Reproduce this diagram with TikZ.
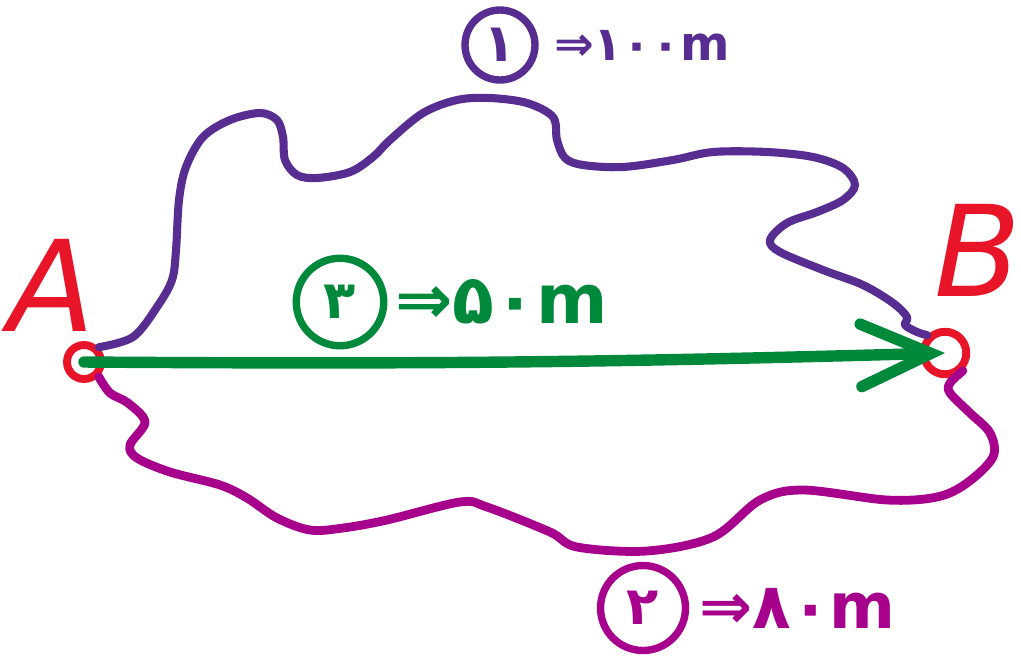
\documentclass[tikz,border=0pt]{standalone}
\usepackage{fontspec}
\newfontfamily\fafont[Script=Arabic]{DejaVu Sans}
\usepackage{xcolor}
\usetikzlibrary{arrows.meta,positioning}
\definecolor{routeone}{RGB}{88,45,145}
\definecolor{routetwo}{RGB}{166,0,140}
\definecolor{routethree}{RGB}{0,137,58}
\definecolor{endred}{RGB}{232,20,40}
\tikzset{
  endpt/.style={circle,draw=endred,line width=4.5pt,minimum size=#1,inner sep=0pt},
  endname/.style={text=endred,inner sep=0pt,font=\fafont\itshape\fontsize{72}{72}\selectfont},
  routenum/.style={circle,draw=#1,text=#1,line width=4.2pt,inner sep=0pt,font=\fafont\bfseries\fontsize{30}{30}\selectfont},
  routelen/.style={text=#1,inner sep=0pt,font=\fafont\bfseries\fontsize{34}{34}\selectfont},
  road/.style={draw=#1,line width=4.6pt,line cap=round,line join=round}
}

\begin{document}
\begin{tikzpicture}[x=0.02cm,y=-0.02cm]
	\useasboundingbox (0,0) rectangle (1021,657);
	% start and end points
	\node[endpt=0.68cm] (pA) at (84,362) {};
	\node[endpt=0.85cm] (pB) at (945,353) {};
	\node[endname] (A) at (52,285) {A};
	\node[endname] (B) at (978,250) {B};
	% route 1 (top)
	\draw[road=routeone] plot[smooth,tension=0.55] coordinates {(pA.45) (133,337) (157,307) (172,280) (176,250) (179,200)
		(186,167) (203,137) (230,120) (260,113) (277,120) (283,137) (285,160) (297,175) (317,178) (350,172) (373,157)
		(390,140) (423,113) (457,100) (490,98) (527,103) (553,117) (557,140) (565,158) (583,165) (623,167) (673,160)
		(713,152) (767,152) (813,157) (843,168) (855,185) (843,200) (817,212) (787,223) (770,240) (780,252) (823,270)
		(863,285) (893,303) (907,317) (905,325) (917,332) (pB.135)};
	% route 2 (bottom)
	\draw[road=routetwo,line width=5pt] plot[smooth,tension=0.55] coordinates {(pA.-45) (110,393) (128,403) (145,422)
		(130,445) (137,458) (170,472) (220,485) (247,498) (277,518) (310,530) (343,528) (387,520) (460,502) (487,507)
		(550,532) (577,547) (647,551) (713,537) (760,500) (803,490) (887,500) (937,497) (967,483) (993,457) (990,433)
		(970,413) (950,393) (950,383) (pB.-45)};
	% route 3 (straight)
	\draw[road=routethree,line width=6.5pt,-{Straight Barb[length=1.4cm,width=1.25cm,line cap=round]}]
		(pA.center) to[bend right=1] (pB.center);
	% labels
	\node[routenum=routeone,minimum size=1.4cm] (n1) at (500,45) {۱};
	\node[routelen=routeone,font=\fafont\bfseries\fontsize{27}{27}\selectfont,right=0.3cm of n1] (l1) {⇒۱۰۰m};
	\node[routenum=routethree,minimum size=1.75cm] (n3) at (340,302) {۳};
	\node[routelen=routethree,font=\fafont\bfseries\fontsize{39}{39}\selectfont,right=0.15cm of n3] (l3) {⇒۵۰m};
	\node[routenum=routetwo,minimum size=1.7cm] (n2) at (643,608) {۲};
	\node[routelen=routetwo,font=\fafont\bfseries\fontsize{36}{36}\selectfont,right=0.2cm of n2] (l2) {⇒۸۰m};
\end{tikzpicture}
\end{document}
